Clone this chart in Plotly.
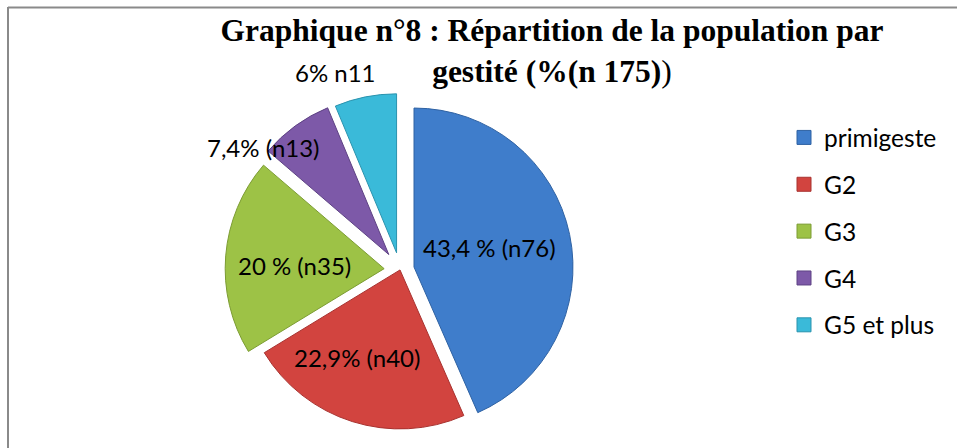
import plotly.graph_objects as go

W, H = 957, 448

# ---- data ----
categories = ["primigeste", "G2", "G3", "G4", "G5 et plus"]
counts = [76, 40, 35, 13, 11]
slice_labels = ["43,4 % (n76)", "22,9% (n40)", "20 % (n35)", "7,4% (n13)", "6% n11"]

# ---- style ----
colors = ["#3F7DCB", "#D2443F", "#9DC246", "#7D59A8", "#3ABAD9"]
edges = ["#2F62A3", "#A8322F", "#7C9C33", "#5E4284", "#2A93AE"]
pulls = [0.09, 0.0, 0.10, 0.12, 0.11]
label_px = [(490, 247), (357, 357), (294, 265), (263, 147), (335, 72)]

cx, cy, box = 400, 270, 356.2


def px_x(v):
    return v / W


def px_y(v):
    return 1 - v / H


fig = go.Figure()

fig.add_trace(go.Pie(
    labels=categories,
    values=counts,
    sort=False,
    direction="clockwise",
    rotation=0,
    pull=pulls,
    marker=dict(colors=colors, line=dict(color=edges, width=1)),
    textinfo="none",
    hoverinfo="label+value+percent",
    showlegend=False,
    domain=dict(x=[px_x(cx - box / 2), px_x(cx + box / 2)],
                y=[max(0, px_y(cy + box / 2)), px_y(cy - box / 2)]),
))

# legend entries (one group per category so the gap can be set)
for i, (cat, col) in enumerate(zip(categories, colors)):
    fig.add_trace(go.Scatter(
        x=[None], y=[None], mode="markers", name=cat,
        legendgroup="g%d" % i,
        marker=dict(symbol="square", size=14, color=col,
                    line=dict(color=edges[i], width=1)),
    ))

annotations = []
for txt, (lx, ly) in zip(slice_labels, label_px):
    annotations.append(dict(
        x=px_x(lx), y=px_y(ly), xref="paper", yref="paper",
        text=txt, showarrow=False, xanchor="center", yanchor="middle",
        font=dict(family="Lato", size=24, color="#000000"),
    ))

shapes = [
    dict(type="line", xref="paper", yref="paper",
         x0=px_x(8), x1=1, y0=px_y(7.5), y1=px_y(7.5),
         line=dict(color="#8A8A8A", width=2)),
    dict(type="line", xref="paper", yref="paper",
         x0=px_x(8), x1=px_x(8), y0=px_y(7), y1=0,
         line=dict(color="#8A8A8A", width=2)),
]

fig.update_layout(
    width=W, height=H,
    margin=dict(l=0, r=0, t=0, b=0),
    paper_bgcolor="#FFFFFF",
    plot_bgcolor="#FFFFFF",
    title=dict(
        text="<b>Graphique n°8 : Répartition de la population par</b><br><b>gestité (%(n 175)</b>)",
        x=px_x(552), xanchor="center", xref="paper",
        y=px_y(41), yanchor="top", yref="container",
        font=dict(family="Liberation Serif", size=31.5, color="#000000"),
    ),
    xaxis=dict(visible=False),
    yaxis=dict(visible=False),
    legend=dict(
        x=px_x(784), xanchor="left",
        y=px_y(115), yanchor="top",
        font=dict(family="Lato", size=24.5, color="#000000"),
        tracegroupgap=12,
        bgcolor="rgba(0,0,0,0)",
    ),
    annotations=annotations,
    shapes=shapes,
)

fig.write_html(
    "out.html",
    config={"displayModeBar": False},
    post_script="document.body.style.margin='0';document.body.style.overflow='hidden';",
)
